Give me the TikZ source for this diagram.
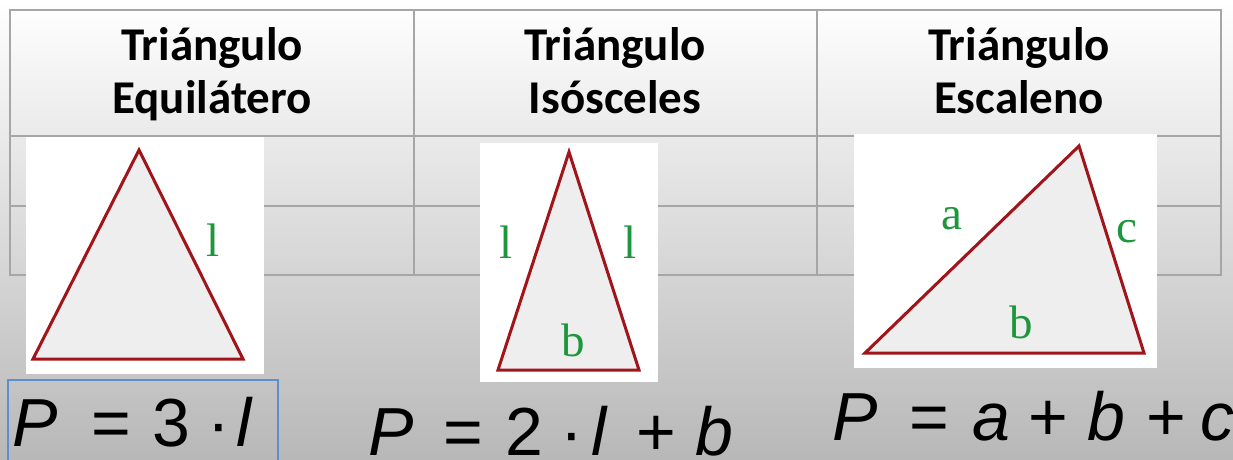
\documentclass[tikz,border=0pt]{standalone}
\usepackage{fontspec}
\setmainfont{Carlito}
\newfontfamily\labfont{Liberation Serif}
\newfontfamily\eqfont{Liberation Sans}
\definecolor{bggrey}{RGB}{184,184,184}
\definecolor{gridgrey}{RGB}{166,166,166}
\definecolor{trired}{RGB}{160,20,26}
\definecolor{trifill}{RGB}{238,238,238}
\definecolor{labgreen}{RGB}{30,150,60}
\definecolor{boxblue}{RGB}{91,143,208}
\newcommand{\gl}[2]{\makebox[0pt][l]{#2}\hspace{#1pt}}
\tikzset{
  header/.style={align=center,font=\bfseries\fontsize{47}{53}\selectfont,inner sep=0pt},
  gridline/.style={draw=gridgrey,line width=2pt},
  picbox/.style={fill=white},
  tri/.style={draw=trired,fill=trifill,line width=3pt},
  lab/.style={text=labgreen,font=\labfont\fontsize{47}{47}\selectfont,inner sep=0pt},
  formula/.style={font=\eqfont\fontsize{68}{68}\selectfont,inner sep=0pt,anchor=base west}
}
\begin{document}
\begin{tikzpicture}[x=1pt,y=-1pt]
\useasboundingbox (0,0) rectangle (1233,459);
\shade[top color=white,bottom color=bggrey] (0,0) rectangle (1233,459);
% table grid
\draw[gridline] (10,10) rectangle (1221,275);
\draw[gridline] (10,136) -- (1221,136);
\draw[gridline] (10,206) -- (1221,206);
\draw[gridline] (414,10) -- (414,275);
\draw[gridline] (817,10) -- (817,275);
% headers
\node[header,anchor=base] (h1) at (212,113) {Triángulo\\Equilátero};
\node[header,anchor=base] (h2) at (615,113) {Triángulo\\Isósceles};
\node[header,anchor=base] (h3) at (1019,113) {Triángulo\\Escaleno};
% picture 1
\fill[picbox] (26,137) rectangle (264,374);
\draw[tri] (139,150) -- (243,359) -- (33,359) -- cycle;
\node[lab] (l1) at (213,240) {l};
% picture 2
\fill[picbox] (480,143) rectangle (658,382);
\draw[tri] (569,152) -- (639,370) -- (498,370) -- cycle;
\node[lab] (l2a) at (506,242) {l};
\node[lab] (l2b) at (630,242) {l};
\node[lab] (b2) at (573,340) {b};
% picture 3
\fill[picbox] (854,134) rectangle (1157,368);
\draw[tri] (1079,146) -- (1144,353) -- (865,353) -- cycle;
\node[lab] (a3) at (952,219) {a};
\node[lab] (c3) at (1127,232) {c};
\node[lab] (b3) at (1021,322) {b};
% formulas
\draw[boxblue,line width=1.2pt] (8,380) rectangle (278,470);
\node[formula] (f1) at (12,446) {\gl{79}{\itshape P}\gl{61}{=}\gl{55}{3}\gl{29}{·}\gl{0}{\itshape l}};
\node[formula] (f2) at (368,455) {\gl{75}{\itshape P}\gl{62}{=}\gl{55}{2}\gl{31}{·}\gl{45}{\itshape l}\gl{59}{+}\gl{0}{\itshape b}};
\node[formula] (f3) at (832,440) {\gl{77}{\itshape P}\gl{63}{=}\gl{56}{\itshape a}\gl{59}{+}\gl{59}{\itshape b}\gl{54}{+}\gl{0}{\itshape c}};
\end{tikzpicture}
\end{document}
